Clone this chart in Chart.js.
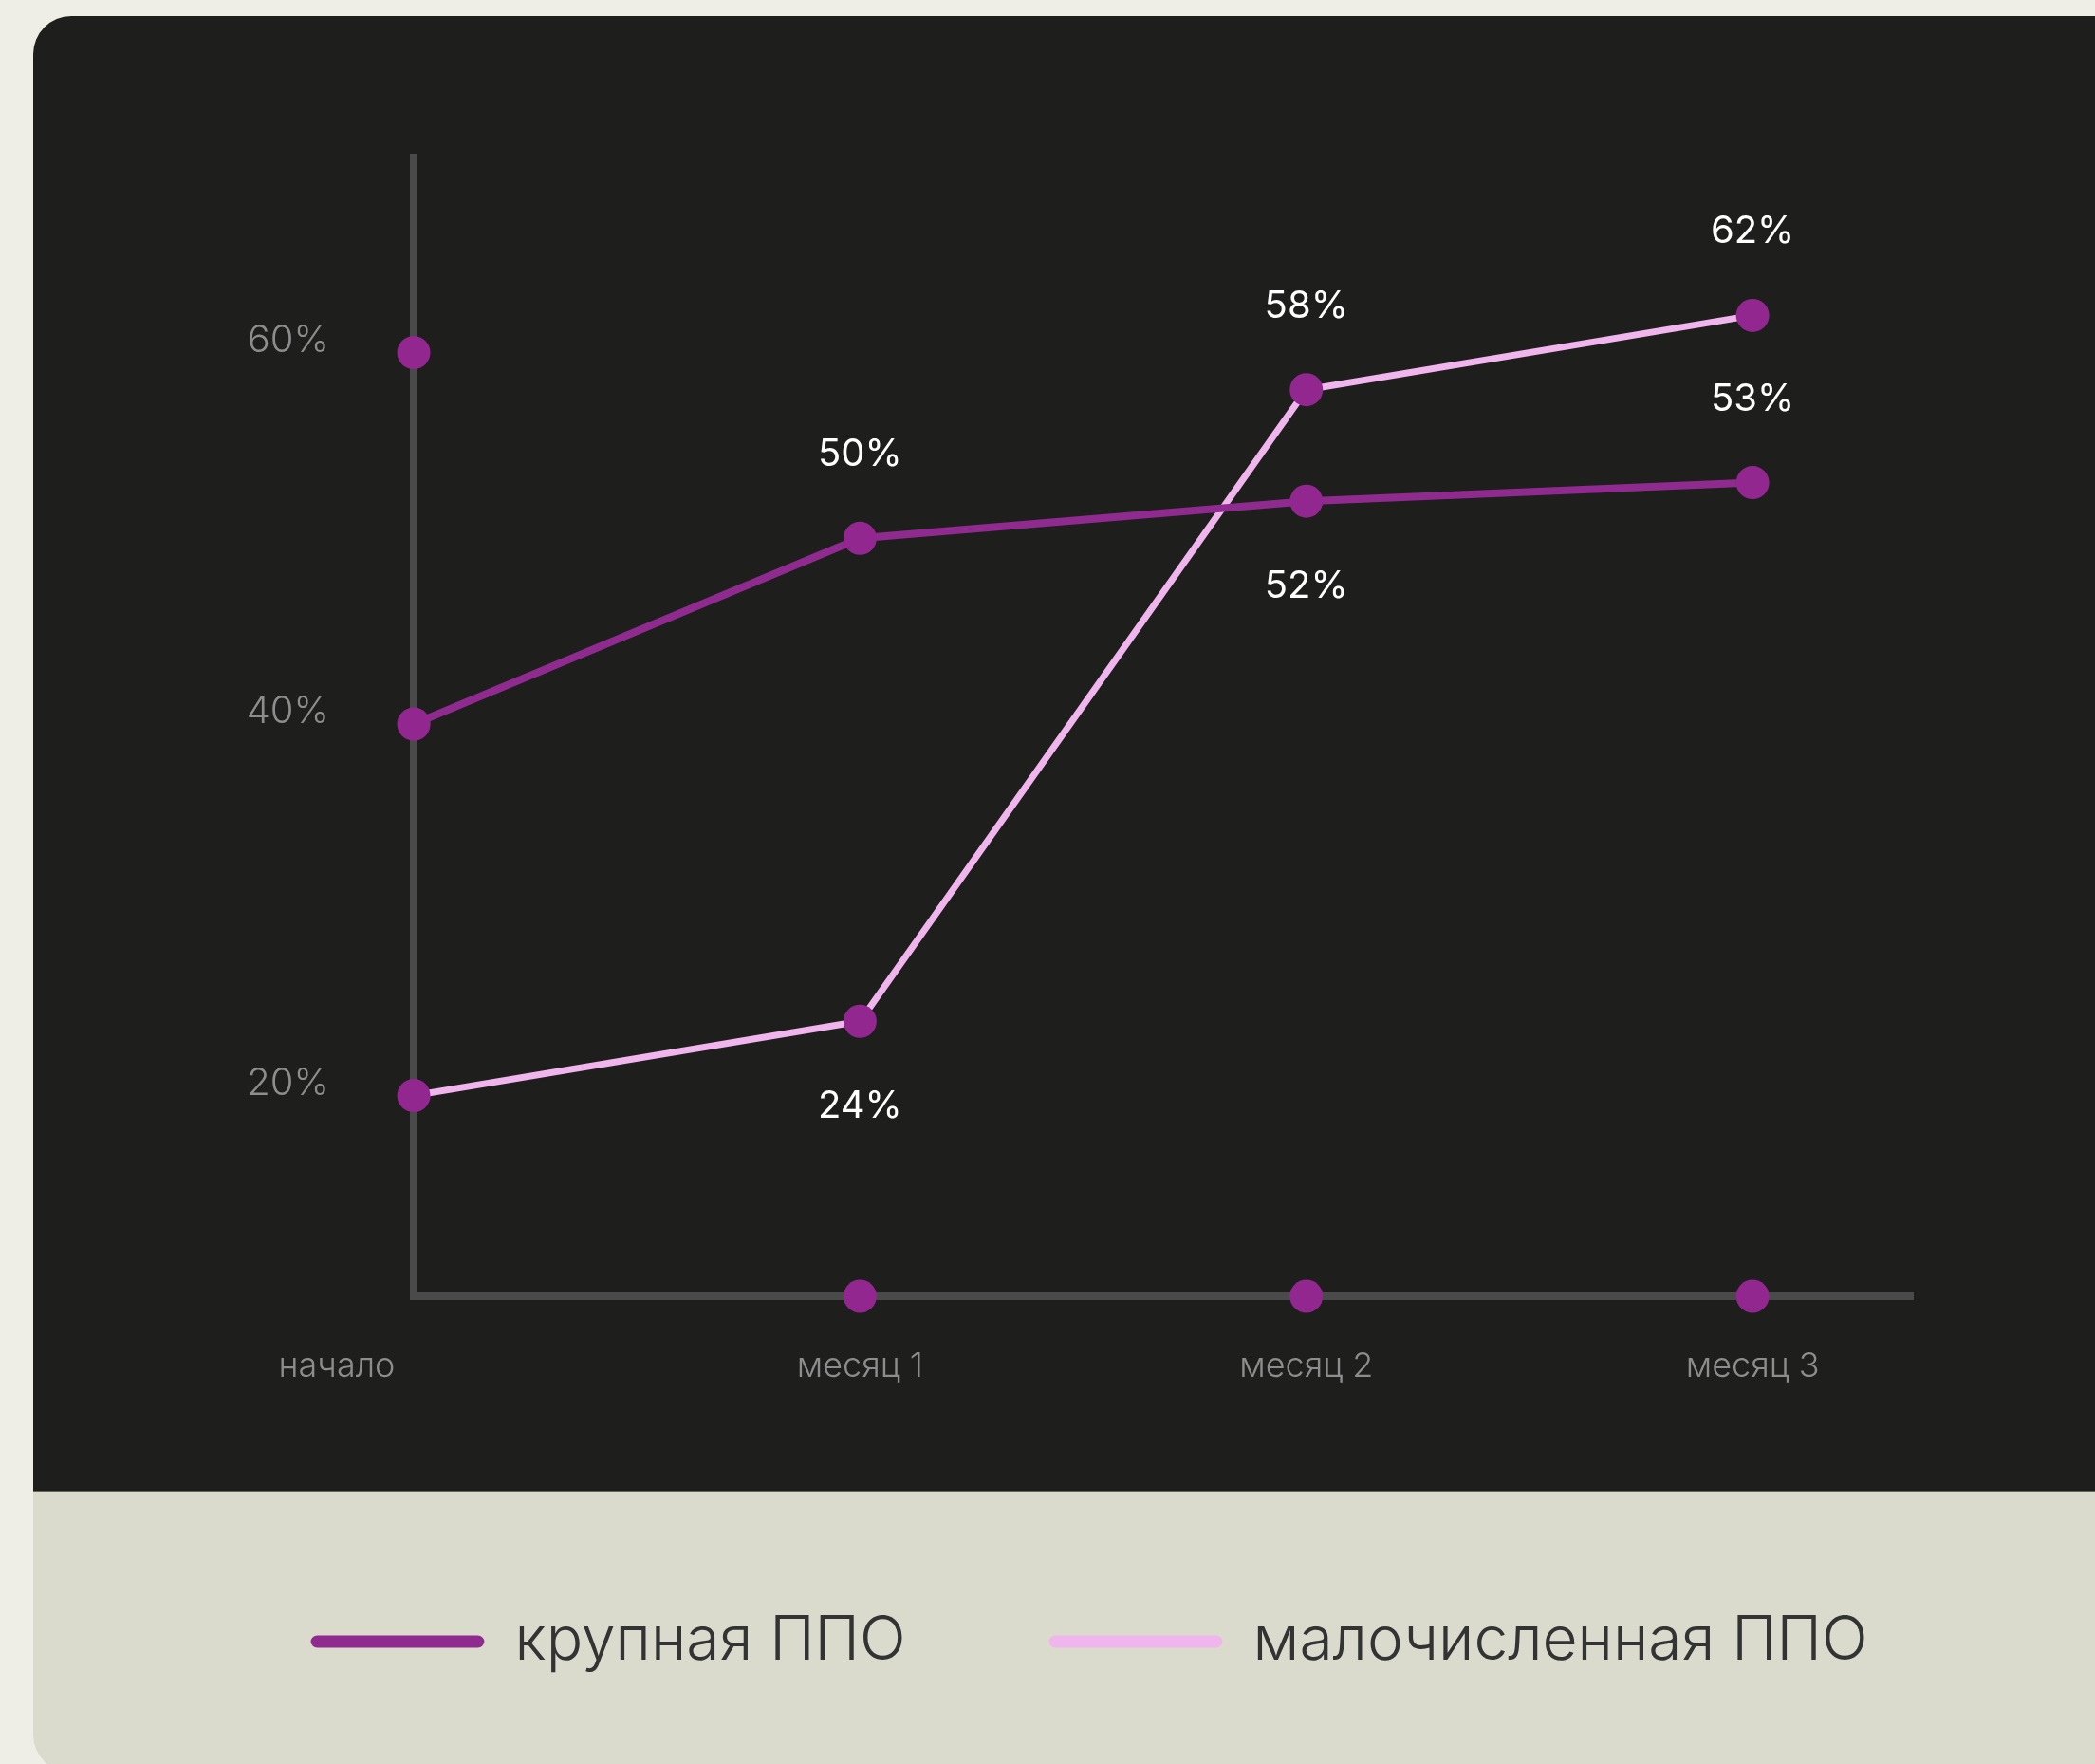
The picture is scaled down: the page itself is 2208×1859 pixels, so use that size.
<!DOCTYPE html>
<html lang="ru">
<head>
<meta charset="UTF-8">
<title>крупная и малочисленная ППО</title>
<script src="https://cdn.jsdelivr.net/npm/chart.js"></script>
<style>
    body {
        margin: 0;
        width: 2208px;
        height: 1859px;
        overflow: hidden;
        position: relative;
        background: #eeeee7;
        font-family: Inter, sans-serif;
    }
    #card {
        position: absolute;
        left: 35px;
        top: 17px;
        width: 2300px;
        height: 1851px;
        border-radius: 40px;
        background: linear-gradient(to bottom, #1e1e1d 0, #1e1e1d 1554px, #66665e 1554px, #66665e 1555px, #dadbcd 1555px);
    }
    #chartCanvas {
        position: absolute;
        left: 0;
        top: 0;
    }
</style>
</head>
<body>
<div id="card"></div>
<canvas id="chartCanvas" width="2208" height="1859"></canvas>

<script>
    // data
    const categories = ['начало', 'месяц 1', 'месяц 2', 'месяц 3'];
    const seriesNames = ['крупная ППО', 'малочисленная ППО'];
    const largeValues = [40, 50, 52, 53];
    const smallValues = [20, 24, 58, 62];
    const yTickValues = [20, 40, 60];

    const dotColor = '#92278f';
    const largeColor = '#8f2a8f';
    const smallColor = '#efb5ec';

    Chart.defaults.font.family = 'Inter, sans-serif';

    // dots sitting on the axes at every tick
    const axisDots = {
        id: 'axisDots',
        beforeDatasetsDraw(chart) {
            const { ctx, chartArea, scales: { x, y } } = chart;
            ctx.save();
            ctx.fillStyle = dotColor;
            yTickValues.forEach(v => {
                ctx.beginPath();
                ctx.arc(chartArea.left, y.getPixelForValue(v), 17.5, 0, Math.PI * 2);
                ctx.fill();
            });
            categories.forEach((c, i) => {
                if (i === 0) return;
                ctx.beginPath();
                ctx.arc(x.getPixelForValue(i), chartArea.bottom, 17.5, 0, Math.PI * 2);
                ctx.fill();
            });
            ctx.restore();
        }
    };

    // value labels above / below the points
    const valueLabels = {
        id: 'valueLabels',
        afterDatasetsDraw(chart) {
            const { ctx } = chart;
            ctx.save();
            ctx.fillStyle = '#ffffff';
            ctx.font = '400 40px Inter';
            ctx.textAlign = 'center';
            ctx.textBaseline = 'middle';
            chart.data.datasets.forEach((ds, i) => {
                const meta = chart.getDatasetMeta(i);
                ds.data.forEach((d, j) => {
                    const place = ds.labelPlace[j];
                    if (!place) return;
                    const pt = meta.data[j];
                    ctx.fillText(d.y + '%', pt.x, pt.y + (place === 'above' ? -88 : 90));
                });
            });
            ctx.restore();
        }
    };

    const toPoints = values => values.map((v, i) => ({ x: i, y: v }));

    const chart = new Chart(document.getElementById('chartCanvas'), {
        type: 'line',
        data: {
            datasets: [
                {
                    label: seriesNames[0],
                    data: toPoints(largeValues),
                    borderColor: largeColor,
                    backgroundColor: largeColor,
                    borderWidth: 8,
                    pointRadius: 17.5,
                    pointHoverRadius: 17.5,
                    pointBorderWidth: 0,
                    pointBackgroundColor: dotColor,
                    labelPlace: [null, 'above', 'below', 'above']
                },
                {
                    label: seriesNames[1],
                    data: toPoints(smallValues),
                    borderColor: smallColor,
                    backgroundColor: smallColor,
                    borderWidth: 7,
                    pointRadius: 17.5,
                    pointHoverRadius: 17.5,
                    pointBorderWidth: 0,
                    pointBackgroundColor: dotColor,
                    labelPlace: [null, 'below', 'above', 'above']
                }
            ]
        },
        options: {
            responsive: false,
            animation: false,
            devicePixelRatio: 1,
            layout: {
                padding: { left: 88, right: 0, top: 166, bottom: 87 }
            },
            scales: {
                x: {
                    type: 'linear',
                    min: 0,
                    max: 3.359,
                    grid: { display: true, color: 'transparent', drawTicks: false },
                    border: { display: true, color: '#4a4a4a', width: 8 },
                    afterBuildTicks: scale => {
                        scale.ticks = categories.map((c, i) => ({ value: i }));
                    },
                    afterFit: scale => { scale.height = 181; },
                    ticks: {
                        autoSkip: false,
                        maxRotation: 0,
                        padding: 53,
                        color: '#8d8d8d',
                        font: { size: 36, weight: 300 },
                        // first label sits left of the axis corner
                        callback: v => v === 0 ? categories[0] + ' '.repeat(16) : categories[v]
                    }
                },
                y: {
                    min: 9.2,
                    max: 70.5,
                    grid: { display: true, color: 'transparent', drawTicks: false },
                    border: { display: true, color: '#4a4a4a', width: 8 },
                    afterBuildTicks: scale => {
                        scale.ticks = yTickValues.map(v => ({ value: v }));
                    },
                    afterFit: scale => { scale.width = 348; },
                    ticks: {
                        padding: 89,
                        labelOffset: -13,
                        color: '#8d8d8d',
                        font: { size: 40, weight: 300 },
                        callback: v => v + '%'
                    }
                },
                // empty strip on the right so the x axis stops short of the card edge
                rightGap: {
                    type: 'linear',
                    position: 'right',
                    grid: { display: false, drawTicks: false },
                    border: { display: false },
                    ticks: { display: false },
                    afterFit: scale => { scale.width = 192; }
                }
            },
            plugins: {
                legend: {
                    position: 'bottom',
                    labels: {
                        boxWidth: 183,
                        boxHeight: 13,
                        padding: 151,
                        color: '#333333',
                        font: { size: 64, weight: 300 },
                        useBorderRadius: true,
                        borderRadius: 7,
                        generateLabels: c => Chart.defaults.plugins.legend.labels.generateLabels(c).map(item => ({
                            ...item,
                            fillStyle: item.strokeStyle,
                            lineWidth: 0,
                            borderRadius: 7
                        }))
                    }
                },
                tooltip: { enabled: false }
            }
        },
        plugins: [axisDots, valueLabels]
    });
</script>
</body>
</html>
